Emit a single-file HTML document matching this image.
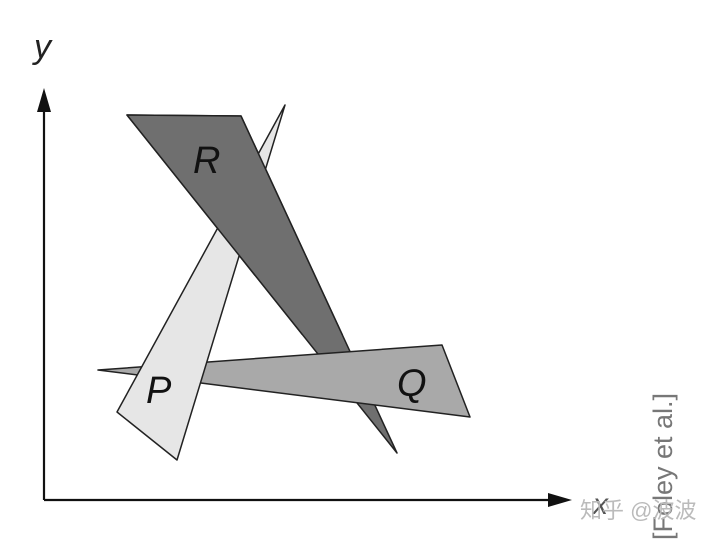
<!DOCTYPE html>
<html><head><meta charset="utf-8"><style>
html,body{margin:0;padding:0;background:#fff;width:710px;height:540px;overflow:hidden}
</style></head><body>
<svg width="710" height="540" viewBox="0 0 710 540">
<defs><clipPath id="upper"><rect x="0" y="0" width="710" height="335"/></clipPath></defs>
<g>
<line x1="44" y1="500" x2="44" y2="105" stroke="#111" stroke-width="2.2"/>
<polygon points="44,88 37,112 51,112" fill="#111"/>
</g>
<g>
<line x1="44" y1="500" x2="555" y2="500" stroke="#111" stroke-width="2.2"/>
<polygon points="572,500 548,493 548,507" fill="#111"/>
</g>
<text x="34" y="58" font-family="Liberation Sans, sans-serif" font-style="italic" font-size="34" fill="#222">y</text>
<text x="593" y="514" font-family="Liberation Sans, sans-serif" font-style="italic" font-size="30" fill="#555">x</text>
<g stroke="#222" stroke-width="1.5" stroke-linejoin="round">
<polygon points="127,115 241,116 397,453" fill="#6f6f6f"/>
<polygon points="98,370 442,345 470,417" fill="#a9a9a9"/>
<polygon points="285,105 117,412 177,460" fill="#e6e6e6"/>
<polygon clip-path="url(#upper)" points="127,115 241,116 397,453" fill="#6f6f6f"/>
</g>
<g font-family="Liberation Sans, sans-serif" font-style="italic" font-size="38" fill="#111">
<text x="193" y="173">R</text>
<text x="146" y="403">P</text>
<text x="397" y="396">Q</text>
</g>
<text transform="translate(672,540) rotate(-90)" font-family="Liberation Sans, sans-serif" font-size="27" fill="#777">[Foley et al.]</text>
<text x="580" y="518" font-family="Liberation Sans, 'Noto Sans CJK SC', sans-serif" font-size="22" fill="#bbb">知乎 @波波</text>
</svg>
</body></html>
